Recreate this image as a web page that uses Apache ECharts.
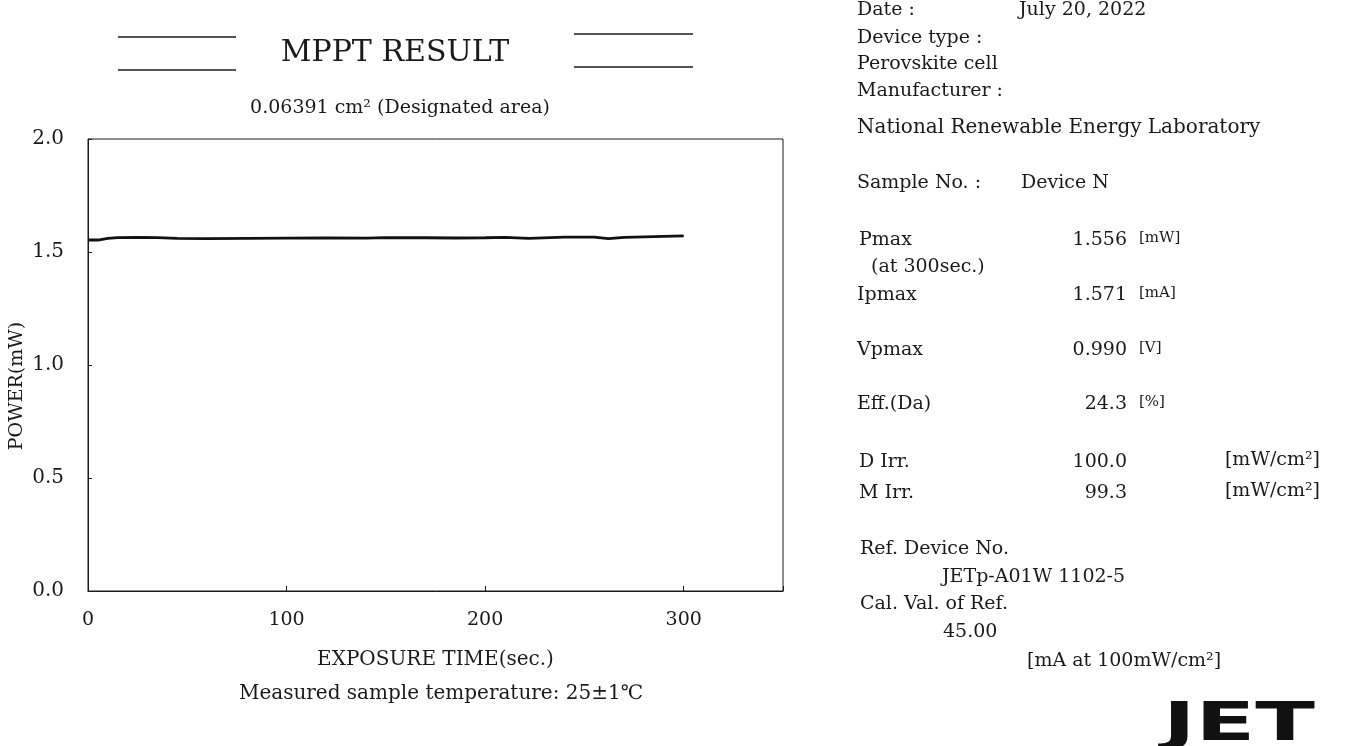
<!DOCTYPE html>
<html>
<head>
<meta charset="utf-8">
<script src="https://cdn.jsdelivr.net/npm/echarts@6/dist/echarts.min.js"></script>
<style>
  html, body { margin: 0; padding: 0; background: #fff; }
  #chart { width: 1358px; height: 746px; }
</style>
</head>
<body>
<div id="chart"></div>
<script>
// MPPT trace
const timeSec = [0, 5, 10, 15, 25, 35, 45, 60, 80, 100, 120, 140, 150, 170, 185, 200, 210, 222, 240, 255, 262, 270, 285, 300]
const powerMw = [1.553, 1.553, 1.560, 1.564, 1.565, 1.564, 1.560, 1.559, 1.560, 1.561, 1.562, 1.561, 1.564, 1.563, 1.562, 1.563, 1.565, 1.560, 1.566, 1.566, 1.559, 1.565, 1.568, 1.571]

const xTicks = [0, 100, 200, 300]

// report sheet values
const reportDate = 'July 20, 2022'
const deviceType = 'Perovskite cell'
const manufacturer = 'National Renewable Energy Laboratory'
const sampleNo = 'Device N'
const pmax = '1.556'
const ipmax = '1.571'
const vpmax = '0.990'
const eff = '24.3'
const dIrr = '100.0'
const mIrr = '99.3'
const refDevice = 'JETp-A01W 1102-5'
const calVal = '45.00'

const serif = '"DejaVu Serif", "Liberation Serif", serif'
const ink = '#1a1a1a'

const txt = (x, y, text, size, align, extra) => Object.assign({
  type: 'text',
  x, y,
  silent: true,
  style: {
    text,
    fill: ink,
    fontFamily: serif,
    fontSize: size || 19,
    textAlign: align || 'left',
    textVerticalAlign: 'middle'
  }
}, extra || {})

const rule = (x1, x2, y) => ({
  type: 'line',
  silent: true,
  shape: { x1, y1: y, x2, y2: y },
  style: { stroke: ink, lineWidth: 1.5 }
})

const graphics = [
  // header
  rule(118, 236, 37), rule(118, 236, 70),
  rule(574, 693, 34), rule(574, 693, 67),
  txt(395, 53, 'MPPT RESULT', 30, 'center'),
  txt(400, 108, '0.06391 cm² (Designated area)', 19, 'center'),
  txt(17, 386, 'POWER(mW)', 19, 'center', { rotation: Math.PI / 2 }),
  txt(441, 694, 'Measured sample temperature: 25±1℃', 20, 'center'),

  // right panel
  txt(857, 10, 'Date :'), txt(1019, 10, reportDate),
  txt(857, 38, 'Device type :'),
  txt(857, 64, deviceType),
  txt(857, 91, 'Manufacturer :'),
  txt(857, 128, manufacturer, 20),
  txt(857, 183, 'Sample No. :'), txt(1021, 183, sampleNo),

  txt(859, 240, 'Pmax'), txt(1127, 240, pmax, 19, 'right'), txt(1139, 238, '[mW]', 15),
  txt(871, 267, '(at 300sec.)'),
  txt(857, 295, 'Ipmax'), txt(1127, 295, ipmax, 19, 'right'), txt(1139, 293, '[mA]', 15),
  txt(857, 350, 'Vpmax'), txt(1127, 350, vpmax, 19, 'right'), txt(1139, 348, '[V]', 15),
  txt(857, 404, 'Eff.(Da)'), txt(1127, 404, eff, 19, 'right'), txt(1139, 402, '[%]', 15),

  txt(859, 462, 'D Irr.'), txt(1127, 462, dIrr, 19, 'right'), txt(1320, 460, '[mW/cm²]', 19, 'right'),
  txt(859, 493, 'M Irr.'), txt(1127, 493, mIrr, 19, 'right'), txt(1320, 491, '[mW/cm²]', 19, 'right'),

  txt(860, 549, 'Ref. Device No.'),
  txt(942, 577, refDevice),
  txt(860, 604, 'Cal. Val. of Ref.'),
  txt(943, 632, calVal),
  txt(1027, 661, '[mA at 100mW/cm²]'),

  // logo
  {
    type: 'text',
    x: 1163, y: 726,
    scaleX: 1.62,
    silent: true,
    style: {
      text: 'JET',
      fill: '#111',
      fontFamily: '"DejaVu Sans", sans-serif',
      fontWeight: 900,
      fontSize: 54,
      textAlign: 'left',
      textVerticalAlign: 'middle'
    }
  }
]

const chart = echarts.init(document.getElementById('chart'))

chart.setOption({
  animation: false,
  backgroundColor: '#fff',
  textStyle: { fontFamily: serif, color: ink },
  grid: {
    left: 88, right: 575, top: 139, bottom: 155,
    show: true,
    borderColor: ink,
    borderWidth: 1
  },
  xAxis: {
    type: 'value',
    min: 0,
    max: 350,
    interval: 100,
    name: 'EXPOSURE TIME(sec.)',
    nameLocation: 'middle',
    nameGap: 59,
    nameTextStyle: { fontFamily: serif, fontSize: 20, color: ink },
    axisLine: { show: true, onZero: false, lineStyle: { color: ink, width: 1 } },
    axisTick: { show: true, inside: true, length: 5, lineStyle: { color: ink } },
    axisLabel: {
      margin: 20,
      fontFamily: serif, fontSize: 19, color: ink,
      customValues: xTicks
    },
    splitLine: { show: false }
  },
  yAxis: {
    type: 'value',
    min: 0,
    max: 2,
    interval: 0.5,
    axisLine: { show: true, lineStyle: { color: ink, width: 1 } },
    axisTick: { show: true, inside: true, length: 4, lineStyle: { color: ink } },
    axisLabel: {
      margin: 24,
      fontFamily: serif, fontSize: 20, color: ink,
      formatter: v => v.toFixed(1)
    },
    splitLine: { show: false }
  },
  series: [{
    type: 'line',
    data: timeSec.map((t, i) => [t, powerMw[i]]),
    showSymbol: false,
    lineStyle: { color: '#111', width: 2.8 }
  }],
  graphic: graphics
})
</script>
</body>
</html>
